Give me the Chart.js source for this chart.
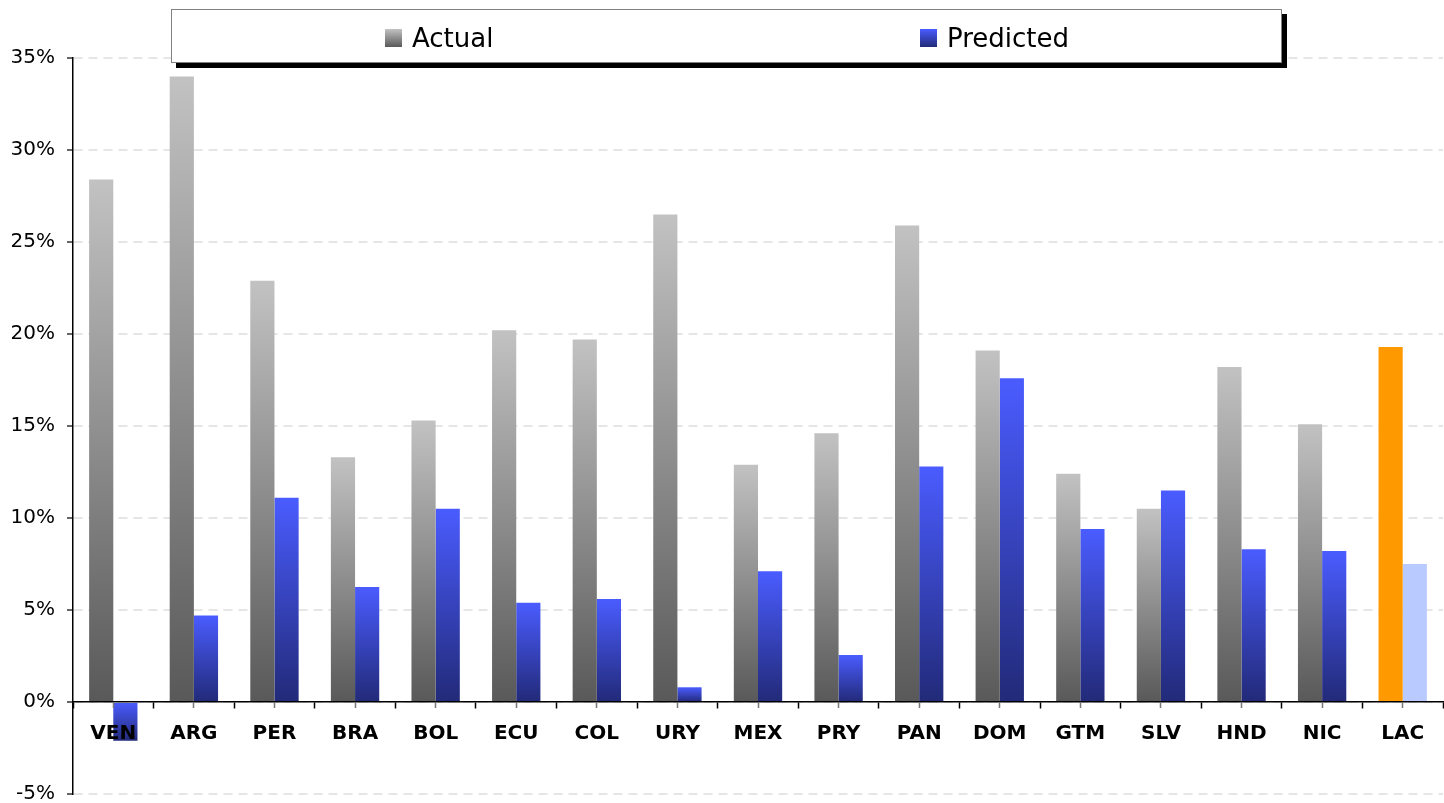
<!DOCTYPE html>
<html>
<head>
<meta charset="utf-8">
<script src="https://cdn.jsdelivr.net/npm/chart.js@4/dist/chart.umd.min.js"></script>
<style>
  html, body { margin: 0; padding: 0; background: #fff; overflow: hidden; }
  #wrap { position: relative; width: 1444px; height: 803px; }
  #legend {
    position: absolute; left: 171px; top: 9px; width: 1109px; height: 52px;
    border: 1.5px solid #808080; background: #fff; box-shadow: 5px 5px 0 #000;
    font-family: "DejaVu Sans", sans-serif; font-size: 26px; color: #000; z-index: 5;
  }
  .item { position: absolute; top: 2px; height: 52px; display: flex; align-items: center; }
  .mk { width: 17px; height: 18px; margin-right: 10px; }
</style>
</head>
<body>
<div id="wrap">
  <canvas id="c" width="1444" height="803"></canvas>
  <div id="legend"></div>
</div>
<script>
const categories = ["VEN","ARG","PER","BRA","BOL","ECU","COL","URY","MEX","PRY","PAN","DOM","GTM","SLV","HND","NIC","LAC"];
const seriesNames = ["Actual", "Predicted"];
const actual    = [28.4, 34.0, 22.9, 13.3, 15.3, 20.2, 19.7, 26.5, 12.9, 14.6, 25.9, 19.1, 12.4, 10.5, 18.2, 15.1, 19.3];
const predicted = [-2.1, 4.7, 11.1, 6.25, 10.5, 5.4, 5.6, 0.8, 7.1, 2.55, 12.8, 17.6, 9.4, 11.5, 8.3, 8.2, 7.5];
const yTicks = [-5, 0, 5, 10, 15, 20, 25, 30, 35];

const highlightCategory = "LAC";
const gradActual = ["#c2c2c2", "#595959"];
const gradPred = ["#4a5cff", "#222a78"];
const solidActual = "#ff9900";
const solidPred = "#b8caff";

function gradFill(colors, solid) {
  return function(ctx) {
    const chart = ctx.chart;
    if (categories[ctx.dataIndex] === highlightCategory) return solid;
    const y = chart.scales && chart.scales.y;
    if (!chart.chartArea || !y || ctx.raw === undefined) return colors[0];
    const v = ctx.raw;
    const top = y.getPixelForValue(Math.max(v, 0));
    const bot = y.getPixelForValue(Math.min(v, 0));
    if (!isFinite(top) || !isFinite(bot) || Math.abs(bot - top) < 0.5) return colors[0];
    const g = chart.ctx.createLinearGradient(0, top, 0, bot);
    g.addColorStop(0, colors[0]);
    g.addColorStop(1, colors[1]);
    return g;
  };
}

// legend
const legendEl = document.getElementById('legend');
const legendPos = [213, 748];
const legendMk = [
  "linear-gradient(#c2c2c2, #595959)",
  "linear-gradient(#4a5cff, #222a78)"
];
seriesNames.forEach((n, i) => {
  const d = document.createElement('div');
  d.className = 'item';
  d.style.left = legendPos[i] + 'px';
  const m = document.createElement('div');
  m.className = 'mk';
  m.style.background = legendMk[i];
  const t = document.createElement('span');
  t.textContent = n;
  d.appendChild(m); d.appendChild(t);
  legendEl.appendChild(d);
});

Chart.defaults.font.family = '"DejaVu Sans", sans-serif';
Chart.defaults.color = '#000';

function zeroPad(s) { s.paddingTop = 0; s.paddingBottom = 0; }

new Chart(document.getElementById('c'), {
  type: 'bar',
  data: {
    labels: categories,
    datasets: [
      { label: seriesNames[0], data: actual, backgroundColor: gradFill(gradActual, solidActual) },
      { label: seriesNames[1], data: predicted, backgroundColor: gradFill(gradPred, solidPred) }
    ]
  },
  options: {
    responsive: false,
    animation: false,
    devicePixelRatio: 1,
    layout: { padding: { top: 58, bottom: 9, left: 0, right: 1 } },
    datasets: { bar: { categoryPercentage: 0.6, barPercentage: 1.0 } },
    plugins: { legend: { display: false }, tooltip: { enabled: false } },
    scales: {
      x: {
        type: 'category',
        position: { y: 0 },
        afterFit: zeroPad,
        grid: { display: true, offset: true, drawOnChartArea: false, drawTicks: true, tickLength: 6, tickColor: '#000', tickWidth: 1.5, z: 1 },
        border: { display: true, color: '#000', width: 1.5, z: 1 },
        ticks: { font: { size: 20, weight: 'bold' }, padding: 14, color: '#000', maxRotation: 0, autoSkip: false, z: 1 }
      },
      x2: {
        type: 'category',
        labels: categories,
        position: { y: 0 },
        afterFit: zeroPad,
        grid: { display: true, offset: false, drawOnChartArea: false, drawTicks: true, tickLength: 6, tickColor: '#777', tickWidth: 1.5, z: 1 },
        border: { display: false },
        ticks: { display: false }
      },
      y: {
        min: -5, max: 35,
        afterBuildTicks: (s) => { s.ticks = yTicks.map(v => ({ value: v })); },
        afterFit: (s) => { s.width = 73; zeroPad(s); },
        grid: { color: '#e6e6e6', lineWidth: 2, drawTicks: true, tickLength: 6, tickColor: '#666', tickWidth: 2, tickBorderDash: [] },
        border: { display: true, color: '#000', width: 1.5, dash: [9, 6] },
        ticks: { font: { size: 20 }, padding: 12, color: '#000', callback: (v) => v + '%' }
      }
    }
  }
});
</script>
</body>
</html>
